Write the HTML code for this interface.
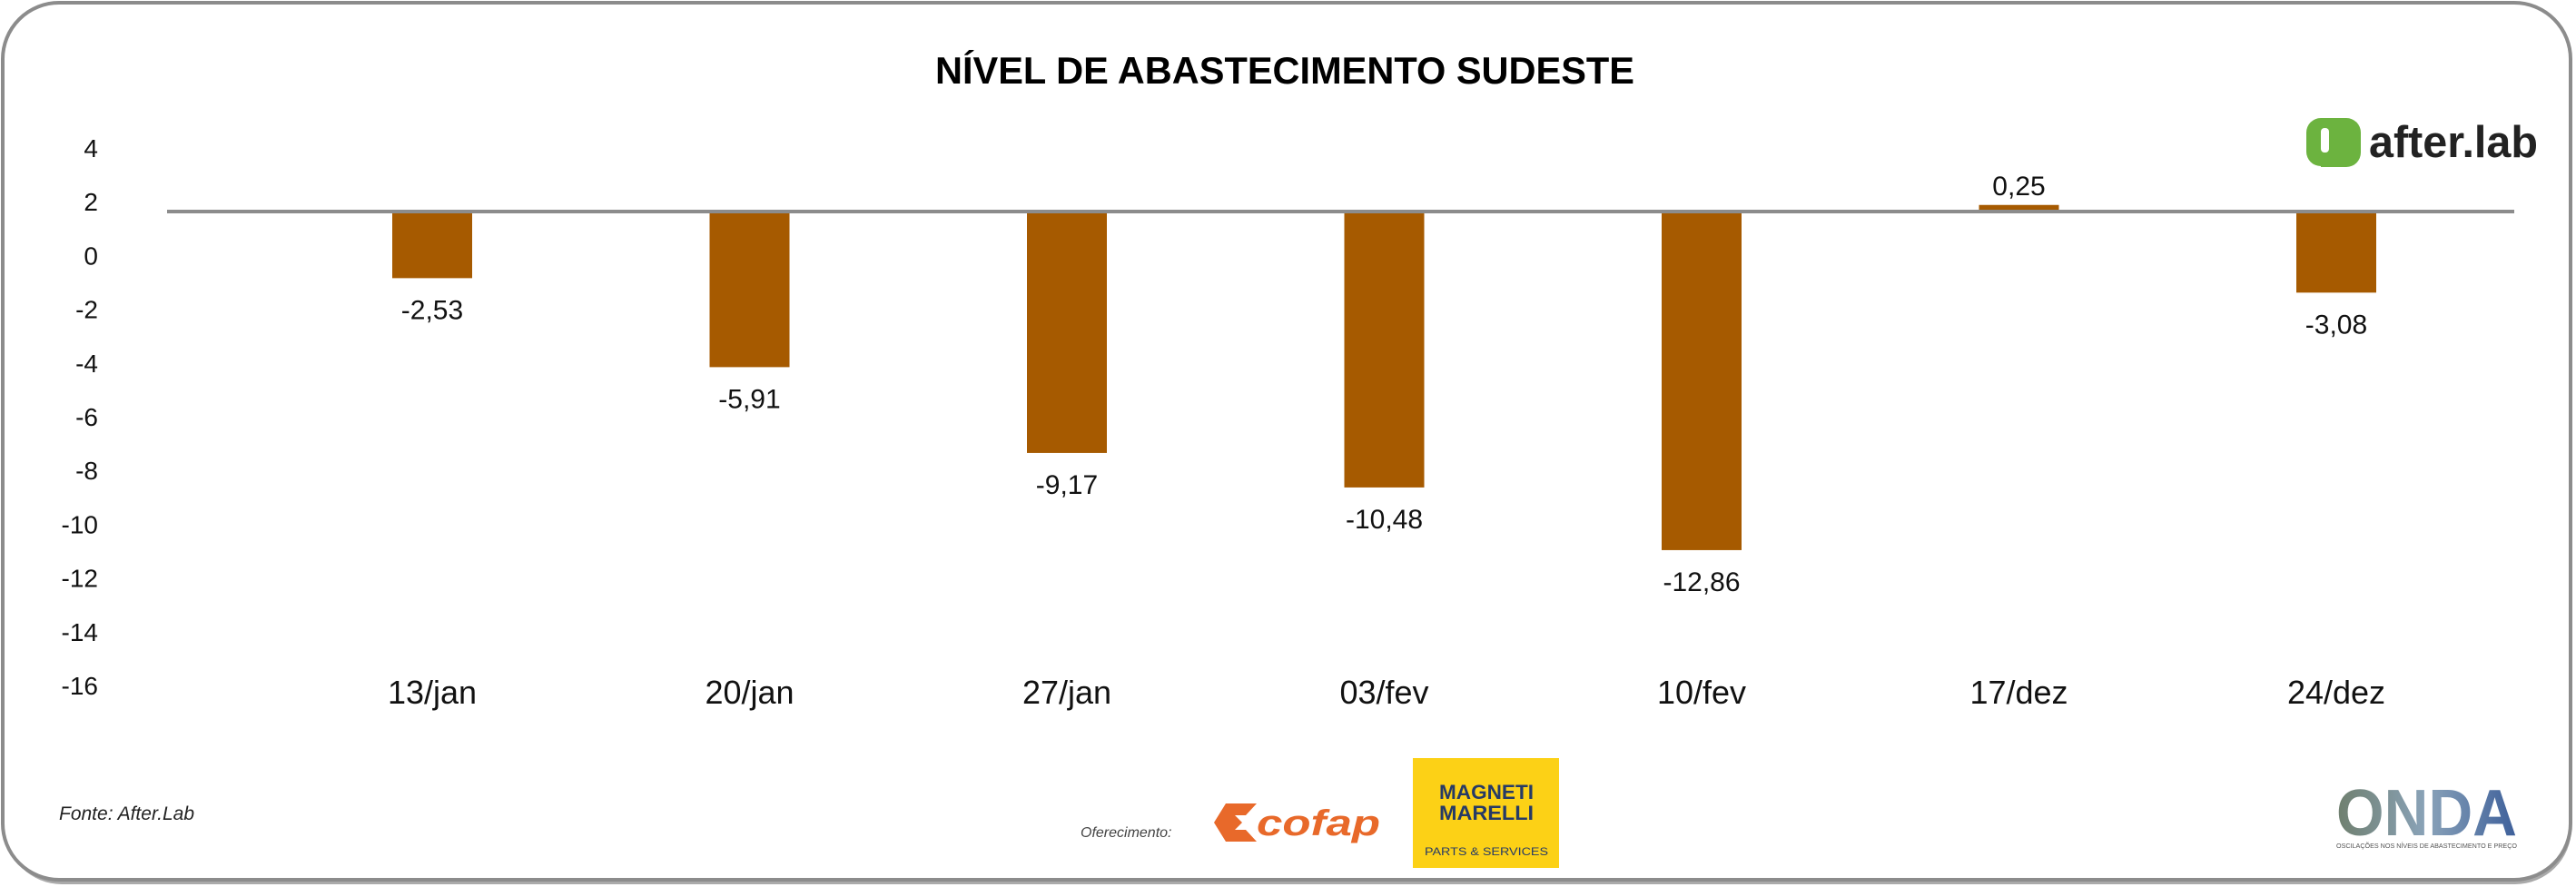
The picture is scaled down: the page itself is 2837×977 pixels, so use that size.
<!DOCTYPE html>
<html><head><meta charset="utf-8">
<style>
html,body{margin:0;padding:0;background:#fff;}
svg{display:block;font-family:"Liberation Sans",sans-serif;}
</style></head>
<body>
<svg id="chart" width="2837" height="977" viewBox="0 0 2837 977" xmlns="http://www.w3.org/2000/svg">
  <rect x="6" y="8" width="2826" height="966" rx="62" fill="#aaa"/>
  <rect x="3" y="3" width="2828" height="966" rx="62" fill="#fff" stroke="#8c8c8c" stroke-width="4"/>
  <text x="1415" y="92" text-anchor="middle" font-size="42" font-weight="bold" textLength="770" lengthAdjust="spacingAndGlyphs" fill="#000">NÍVEL DE ABASTECIMENTO SUDESTE</text>

  <g>
    <path d="M2556 130 h28 a16 16 0 0 1 16 16 v22 a16 16 0 0 1 -16 16 h-28 z" fill="#6cb33f"/>
    <path d="M2540 146 a16 16 0 0 1 16 -16 v28 a6 6 0 0 0 6 6 v19 h-6 a16 16 0 0 1 -16 -16 z" fill="#6cb33f"/>
    <rect x="2556" y="141" width="9" height="27" rx="4" fill="#fff"/>
    <text x="2609" y="173" font-size="49" font-weight="bold" fill="#222" textLength="186" lengthAdjust="spacingAndGlyphs">after.lab</text>
  </g>

  <g id="yaxis"></g>
  <g id="bars"></g>
  <line x1="184" y1="233" x2="2769" y2="233" stroke="#8c8c8c" stroke-width="4"/>
  <g id="xaxis"></g>

  <text x="65" y="903" font-size="21" font-style="italic" fill="#222">Fonte: After.Lab</text>
  <text x="1190" y="922" font-size="16" font-style="italic" fill="#444">Oferecimento:</text>

  <g>
    <path d="M1350 885 h34 l-12 13 h-12 l8 8 -8 8 h12 l12 13 h-34 l-13 -21 z" fill="#e8692a"/>
    <text x="1384" y="920" font-size="40" font-weight="bold" font-style="italic" fill="#e8692a" textLength="136" lengthAdjust="spacingAndGlyphs">cofap</text>
  </g>
  <g>
    <rect x="1556" y="835" width="161" height="121" fill="#fcd116"/>
    <text x="1637" y="880" font-size="22" font-weight="bold" fill="#263a66" text-anchor="middle" textLength="104" lengthAdjust="spacingAndGlyphs">MAGNETI</text>
    <text x="1637" y="903" font-size="22" font-weight="bold" fill="#263a66" text-anchor="middle" textLength="104" lengthAdjust="spacingAndGlyphs">MARELLI</text>
    <text x="1637" y="942" font-size="12" fill="#263a66" text-anchor="middle" textLength="136" lengthAdjust="spacingAndGlyphs">PARTS &amp; SERVICES</text>
  </g>
  <g>
    <defs><linearGradient id="og" x1="0" x2="1"><stop offset="0" stop-color="#6f7f6e"/><stop offset="0.5" stop-color="#8aa3b9"/><stop offset="1" stop-color="#3d5f9a"/></linearGradient></defs>
    <text x="2573" y="920" font-size="72" font-weight="bold" fill="url(#og)" textLength="199" lengthAdjust="spacingAndGlyphs">ONDA</text>
    <text x="2573" y="934" font-size="7" fill="#555" textLength="199" lengthAdjust="spacingAndGlyphs">OSCILAÇÕES NOS NÍVEIS DE ABASTECIMENTO E PREÇO</text>
  </g>
</svg>
<script>
const categories = ["13/jan","20/jan","27/jan","03/fev","10/fev","17/dez","24/dez"];
const values = [-2.53,-5.91,-9.17,-10.48,-12.86,0.25,-3.08];
const valueLabels = ["-2,53","-5,91","-9,17","-10,48","-12,86","0,25","-3,08"];
const yTicks = [4,2,0,-2,-4,-6,-8,-10,-12,-14,-16];

const NS = "http://www.w3.org/2000/svg";
const zeroY = 233, pxPerUnit = 29;
function yScale(v){ return zeroY - v*pxPerUnit; }
function xScale(i){ return 476 + i*349.5; }
function tickY(t){ return 765 - (t + 16)*29.6; }
const barW = 88;

const yaxis = document.getElementById('yaxis');
yTicks.forEach(t=>{
  const tx = document.createElementNS(NS,'text');
  
  
  tx.setAttribute('x',108); tx.setAttribute('y',tickY(t));
  tx.setAttribute('text-anchor','end'); tx.setAttribute('font-size','28'); tx.setAttribute('fill','#111');
  tx.textContent = String(t);
  yaxis.appendChild(tx);
});

const bars = document.getElementById('bars');
const xaxis = document.getElementById('xaxis');
values.forEach((v,i)=>{
  const cx = xScale(i);
  const y0 = yScale(0), y1 = yScale(v);
  const r = document.createElementNS(NS,'rect');
  
  
  r.setAttribute('x',cx-barW/2); r.setAttribute('width',barW);
  r.setAttribute('y',Math.min(y0,y1)); r.setAttribute('height',Math.abs(y1-y0));
  r.setAttribute('fill','#a65a00');
  bars.appendChild(r);
  const lb = document.createElementNS(NS,'text');
  
  
  lb.setAttribute('x',cx); lb.setAttribute('y', v<0 ? y1+45 : y1-11);
  lb.setAttribute('text-anchor','middle'); lb.setAttribute('font-size','30'); lb.setAttribute('fill','#111');
  lb.textContent = valueLabels[i];
  bars.appendChild(lb);
  const xl = document.createElementNS(NS,'text');
  
  
  xl.setAttribute('x',cx); xl.setAttribute('y',775);
  xl.setAttribute('text-anchor','middle'); xl.setAttribute('font-size','36'); xl.setAttribute('fill','#111');
  xl.textContent = categories[i];
  xaxis.appendChild(xl);
});
</script>
</body></html>
